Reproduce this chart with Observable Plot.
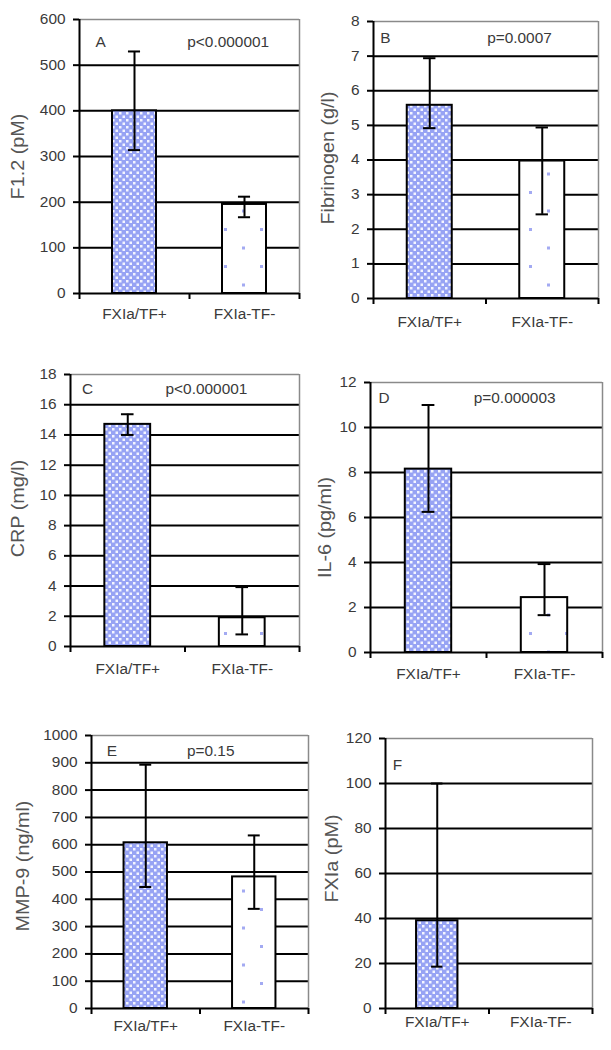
<!DOCTYPE html>
<html><head><meta charset="utf-8">
<script src="https://cdn.jsdelivr.net/npm/d3@7"></script>
<script src="https://cdn.jsdelivr.net/npm/@observablehq/plot@0.6"></script>
<style>
body{margin:0;background:#fff;}
#wrap{position:relative;width:611px;height:1050px;overflow:hidden;}
#wrap svg{position:absolute;max-width:none;}
</style></head><body><div id="wrap"></div>
<script>
// ---- data ----
const groups = ["FXIa/TF+", "FXIa-TF-"];
const panelLetters = ["A", "B", "C", "D", "E", "F"];
const yTitles = ["F1.2 (pM)", "Fibrinogen (g/l)", "CRP (mg/l)", "IL-6 (pg/ml)", "MMP-9 (ng/ml)", "FXIa (pM)"];
const pValues = ["p<0.000001", "p=0.0007", "p<0.000001", "p=0.000003", "p=0.15", ""];
const yTicks = [
  [0, 100, 200, 300, 400, 500, 600],
  [0, 1, 2, 3, 4, 5, 6, 7, 8],
  [0, 2, 4, 6, 8, 10, 12, 14, 16, 18],
  [0, 2, 4, 6, 8, 10, 12],
  [0, 100, 200, 300, 400, 500, 600, 700, 800, 900, 1000],
  [0, 20, 40, 60, 80, 100, 120]
];
const meanPos    = [400, 5.58, 14.7, 8.15, 607, 39];
const errLowPos  = [314, 4.92, 14.0, 6.25, 445, 18.6];
const errHighPos = [530, 6.94, 15.37, 11.0, 893, 100];
const meanNeg    = [195, 3.97, 1.9, 2.44, 482, null];
const errLowNeg  = [167, 2.43, 0.8, 1.66, 365, null];
const errHighNeg = [212, 4.94, 3.93, 3.93, 634, null];

// ---- layout (pixels) ----
const layout = [
  {left: 0,   top: 0,   width: 305, height: 330, ml: 79, mr: 6,  mt: 19, mb: 37, labPad: 16, tDx: -61, tDy: 0,   lx: 0.145, ly: 550,  px: 0.98},
  {left: 305, top: 0,   width: 306, height: 330, ml: 68, mr: 13, mt: 21, mb: 32, labPad: 19, tDx: -45, tDy: -2,  lx: 0.06,  ly: 7.5,  px: 1.01},
  {left: 0,   top: 330, width: 305, height: 350, ml: 70, mr: 6,  mt: 44, mb: 34, labPad: 18, tDx: -52, tDy: -2,  lx: 0.10,  ly: 17,   px: 0.83},
  {left: 305, top: 330, width: 306, height: 350, ml: 65, mr: 9,  mt: 52, mb: 28, labPad: 17, tDx: -45, tDy: 10,  lx: 0.07,  ly: 11.3, px: 0.89},
  {left: 0,   top: 680, width: 310, height: 370, ml: 91, mr: 2,  mt: 55, mb: 42, labPad: 13, tDx: -68, tDy: -6,  lx: 0.14,  ly: 940,  px: 0.88},
  {left: 310, top: 680, width: 301, height: 370, ml: 75, mr: 19, mt: 58, mb: 42, labPad: 9,  tDx: -53, tDy: -15, lx: 0.07,  ly: 108,  px: 0.9}
];

const font = "'Liberation Sans', Arial, sans-serif";
const textColor = "#3a3a3a";
const wrap = document.getElementById("wrap");

layout.forEach((L, i) => {
  const ticks = yTicks[i];
  const yMax = ticks[ticks.length - 1];
  const pos = {g: 0, v: meanPos[i], lo: errLowPos[i], hi: errHighPos[i]};
  const neg = {g: 1, v: meanNeg[i], lo: errLowNeg[i], hi: errHighNeg[i]};
  const bars = [pos, neg].filter(d => d.v != null);
  const posId = "patPos" + i, negId = "patNeg" + i;

  const defs = () => {
    const g = document.createElementNS("http://www.w3.org/2000/svg", "defs");
    g.innerHTML =
      `<pattern id="${posId}" width="7" height="7" patternUnits="userSpaceOnUse">
         <rect width="7" height="7" fill="#97a3f4"/>
         <rect x="0" y="0" width="2.5" height="2.5" fill="#f4f5ff"/>
         <rect x="3.5" y="3.5" width="2.5" height="2.5" fill="#f4f5ff"/>
       </pattern>
       <pattern id="${negId}" width="36" height="37" patternUnits="userSpaceOnUse">
         <rect width="36" height="37" fill="#fff"/>
         <rect x="8" y="6" width="3" height="3" fill="#a3aaf2"/>
         <rect x="26" y="24.5" width="3" height="3" fill="#a3aaf2"/>
       </pattern>`;
    return g;
  };

  const svg = Plot.plot({
    width: L.width, height: L.height,
    marginLeft: L.ml, marginRight: L.mr, marginTop: L.mt, marginBottom: L.mb,
    x: {domain: [0, 2], axis: null},
    y: {domain: [0, yMax], axis: null},
    style: {fontFamily: font, fontSize: "14px", background: "transparent", overflow: "visible"},
    marks: [
      defs,
      // gridlines
      Plot.ruleY(ticks.slice(1, -1), {stroke: "#000", strokeWidth: 2}),
      // plot-area border (top & right)
      Plot.ruleY([yMax], {stroke: "#8a8a8a", strokeWidth: 1.5}),
      Plot.ruleX([2], {stroke: "#8a8a8a", strokeWidth: 1.5}),
      // bars
      Plot.rectY(bars.filter(d => d.g === 0), {x1: d => d.g + 0.3, x2: d => d.g + 0.7, y: "v", fill: `url(#${posId})`, stroke: "#000", strokeWidth: 2}),
      Plot.rectY(bars.filter(d => d.g === 1), {x1: d => d.g + 0.3, x2: d => d.g + 0.7, y: "v", fill: `url(#${negId})`, stroke: "#000", strokeWidth: 2}),
      // error bars
      Plot.ruleX(bars, {x: d => d.g + 0.5, y1: "lo", y2: "hi", stroke: "#000", strokeWidth: 2}),
      Plot.ruleY(bars, {x1: d => d.g + 0.445, x2: d => d.g + 0.555, y: "hi", stroke: "#000", strokeWidth: 2}),
      Plot.ruleY(bars, {x1: d => d.g + 0.445, x2: d => d.g + 0.555, y: "lo", stroke: "#000", strokeWidth: 2}),
      // axes
      Plot.ruleX([0], {stroke: "#000", strokeWidth: 2}),
      Plot.ruleY([0], {stroke: "#000", strokeWidth: 2}),
      Plot.axisY(ticks, {tickSize: 6, tickPadding: 8, strokeWidth: 2, stroke: "#000", fill: textColor, fontSize: 14, label: null, tickFormat: d => String(d)}),
      Plot.axisX([0, 1, 2], {tickSize: 6, strokeWidth: 2, stroke: "#000", tickFormat: () => "", label: null}),
      Plot.axisX([0.5, 1.5], {tickSize: 0, tickPadding: L.labPad, fill: textColor, fontSize: 14, tickFormat: d => groups[Math.floor(d)], label: null}),
      // y title
      Plot.text([yTitles[i]], {frameAnchor: "left", textAnchor: "middle", rotate: -90, dx: L.tDx, dy: L.tDy, fontSize: 18, fill: "#555", text: d => d}),
      // panel letter and p-value
      Plot.text([panelLetters[i]], {x: L.lx, y: L.ly, text: d => d, textAnchor: "start", fontSize: 14, fill: textColor}),
      Plot.text([pValues[i]], {x: L.px, y: L.ly, text: d => d, textAnchor: "start", fontSize: 14, fill: textColor})
    ]
  });
  svg.style.left = L.left + "px";
  svg.style.top = L.top + "px";
  wrap.appendChild(svg);
});

// the reference typeface is set slightly wider than Liberation Sans: stretch text horizontally
wrap.querySelectorAll("text").forEach(t => {
  const len = t.getComputedTextLength();
  if (len > 0) {
    t.setAttribute("textLength", (len * 1.1).toFixed(1));
    t.setAttribute("lengthAdjust", "spacingAndGlyphs");
  }
});
</script>
</body></html>
